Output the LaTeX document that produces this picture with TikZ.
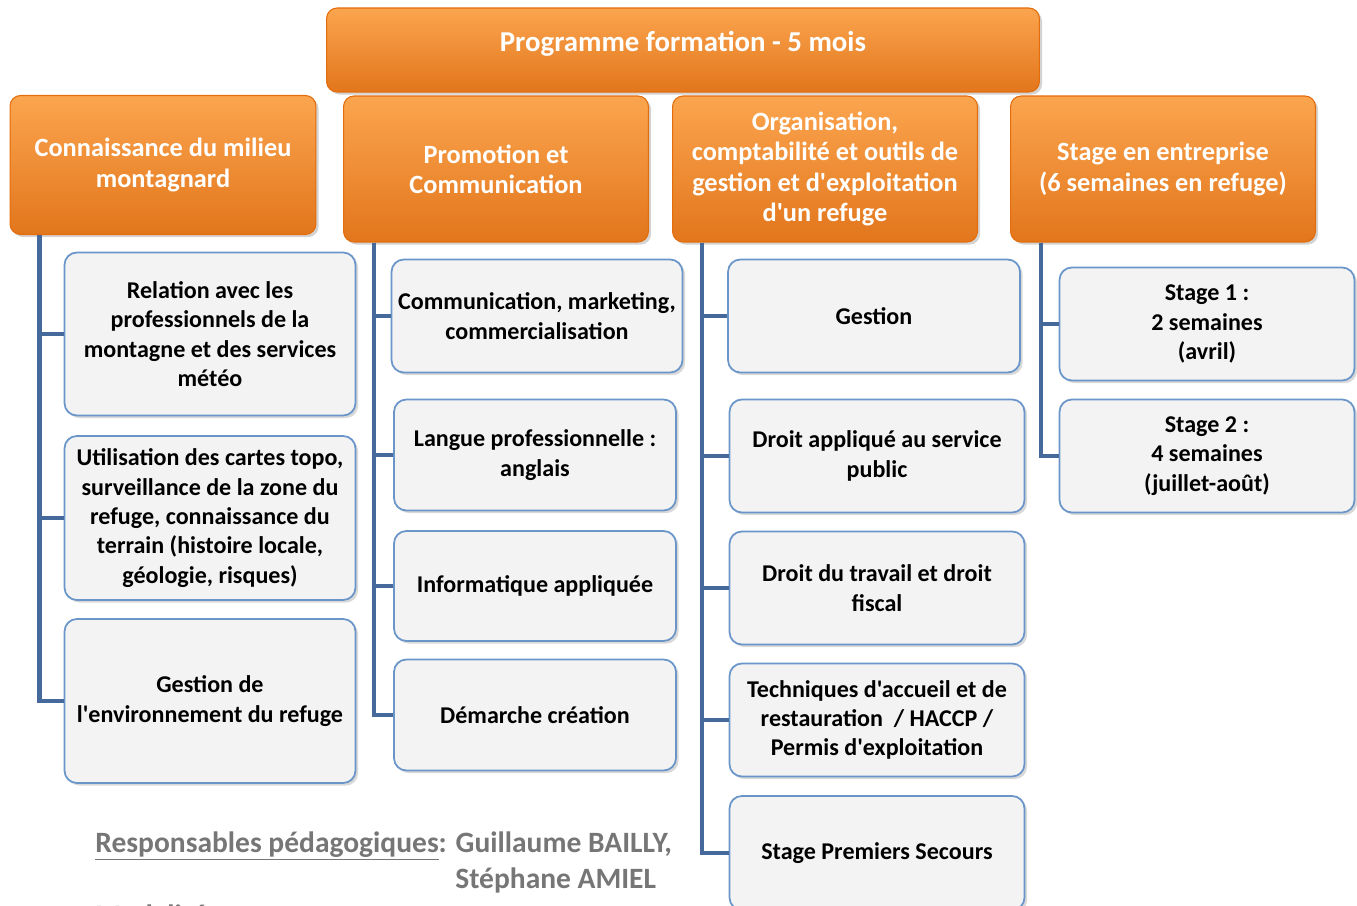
\documentclass[tikz,border=0pt]{standalone}
\usepackage{fontspec}
\setmainfont{Carlito}[Ligatures=TeXOff]
\usetikzlibrary{shadows}

\definecolor{orangeTop}{HTML}{FBA54F}
\definecolor{orangeBot}{HTML}{E2761C}
\definecolor{orangeLine}{HTML}{E46C0A}
\definecolor{boxFill}{HTML}{F3F3F3}
\definecolor{boxLine}{HTML}{6A95C8}
\definecolor{linkBlue}{HTML}{44699A}
\definecolor{noteGray}{HTML}{767676}

\tikzset{
  module/.style={draw=orangeLine, line width=0.6pt, rounded corners=6pt,
    top color=orangeTop, bottom color=orangeBot, text=white, align=center,
    font=\fontsize{15}{17.2}\selectfont\bfseries, inner sep=0pt,
    drop shadow={opacity=0.35,shadow xshift=1.5pt,shadow yshift=-1.5pt}},
  topic/.style={draw=boxLine, line width=1pt, rounded corners=7pt,
    fill=boxFill, text=black, align=center,
    font=\fontsize{13.7}{16.7}\selectfont\bfseries, inner sep=0pt,
    drop shadow={opacity=0.3,shadow xshift=1.5pt,shadow yshift=-1.5pt}},
  link/.style={draw=linkBlue, line width=2.8pt, line join=miter},
  note/.style={text=noteGray, font=\fontsize{16.8}{19}\selectfont\bfseries, anchor=base west, inner sep=0pt}
}

\begin{document}
\begin{tikzpicture}[x=0.02cm,y=-0.02cm]
	\useasboundingbox (0,0) rectangle (1357,906);

	% titre
	\node[module, minimum width=14.26cm, minimum height=1.68cm, text depth=0.35cm, font=\fontsize{16.4}{19}\selectfont\bfseries] (prog) at (683,50) {Programme formation - 5 mois};

	% modules
	\node[module, minimum width=6.12cm, minimum height=2.78cm] (A) at (163,165) {Connaissance du milieu\\montagnard};
	\node[module, minimum width=6.1cm, minimum height=2.92cm] (B) at (496,169) {Promotion et\\Communication};
	\node[module, minimum width=6.1cm, minimum height=2.92cm] (C) at (825,169) {Organisation,\\comptabilité et outils de\\gestion et d'exploitation\\d'un refuge};
	\node[module, minimum width=6.1cm, minimum height=2.92cm] (D) at (1163,169) {Stage en entreprise\\(6 semaines en refuge)};

	% milieu montagnard
	\node[topic, minimum width=5.82cm, minimum height=3.26cm] (A1) at (210,334) {Relation avec les\\professionnels de la\\montagne et des services\\météo};
	\node[topic, minimum width=5.82cm, minimum height=3.28cm] (A2) at (210,518) {Utilisation des cartes topo,\\surveillance de la zone du\\refuge, connaissance du\\terrain (histoire locale,\\géologie, risques)};
	\node[topic, minimum width=5.82cm, minimum height=3.28cm] (A3) at (210,701) {Gestion de\\l'environnement du refuge};

	% promotion
	\node[topic, minimum width=5.82cm, minimum height=2.26cm] (B1) at (537,316) {Communication, marketing,\\commercialisation};
	\node[topic, minimum width=5.64cm, minimum height=2.22cm] (B2) at (535,455) {Langue professionnelle :\\anglais};
	\node[topic, minimum width=5.64cm, minimum height=2.2cm] (B3) at (535,586) {Informatique appliquée};
	\node[topic, minimum width=5.64cm, minimum height=2.22cm] (B4) at (535,715) {Démarche création};

	% organisation
	\node[topic, minimum width=5.84cm, minimum height=2.26cm] (C1) at (874,316) {Gestion};
	\node[topic, minimum width=5.9cm, minimum height=2.26cm] (C2) at (877,456) {Droit appliqué au service\\public};
	\node[topic, minimum width=5.9cm, minimum height=2.26cm] (C3) at (877,588) {Droit du travail et droit\\fiscal};
	\node[topic, minimum width=5.9cm, minimum height=2.26cm] (C4) at (877,720) {Techniques d'accueil et de\\restauration~ / HACCP /\\Permis d'exploitation};
	\node[topic, minimum width=5.9cm, minimum height=2.28cm] (C5) at (877,853) {Stage Premiers Secours};

	% stages
	\node[topic, minimum width=5.9cm, minimum height=2.26cm] (D1) at (1207,324) {Stage 1 :\\2 semaines\\(avril)};
	\node[topic, minimum width=5.9cm, minimum height=2.26cm] (D2) at (1207,456) {Stage 2 :\\4 semaines\\(juillet-août)};

	% liaisons
	\foreach \k in {1,2,3}
		\draw[link] ([xshift=0.6cm]A.south west) |- (A\k.west);
	\foreach \k in {1,2,3,4}
		\draw[link] ([xshift=0.62cm]B.south west) |- (B\k.west);
	\foreach \k in {1,2,3,4,5}
		\draw[link] ([xshift=0.6cm]C.south west) |- (C\k.west);
	\foreach \k in {1,2}
		\draw[link] ([xshift=0.62cm]D.south west) |- (D\k.west);

	% responsables
	\node[note] (resp) at (95,852) {\underline{Responsables pédagogiques}: Guillaume BAILLY,};
	\node[note] (resp2) at (455,888) {Stéphane AMIEL};
	\node[note] (modal) at (95,925) {Modalités};
\end{tikzpicture}
\end{document}
